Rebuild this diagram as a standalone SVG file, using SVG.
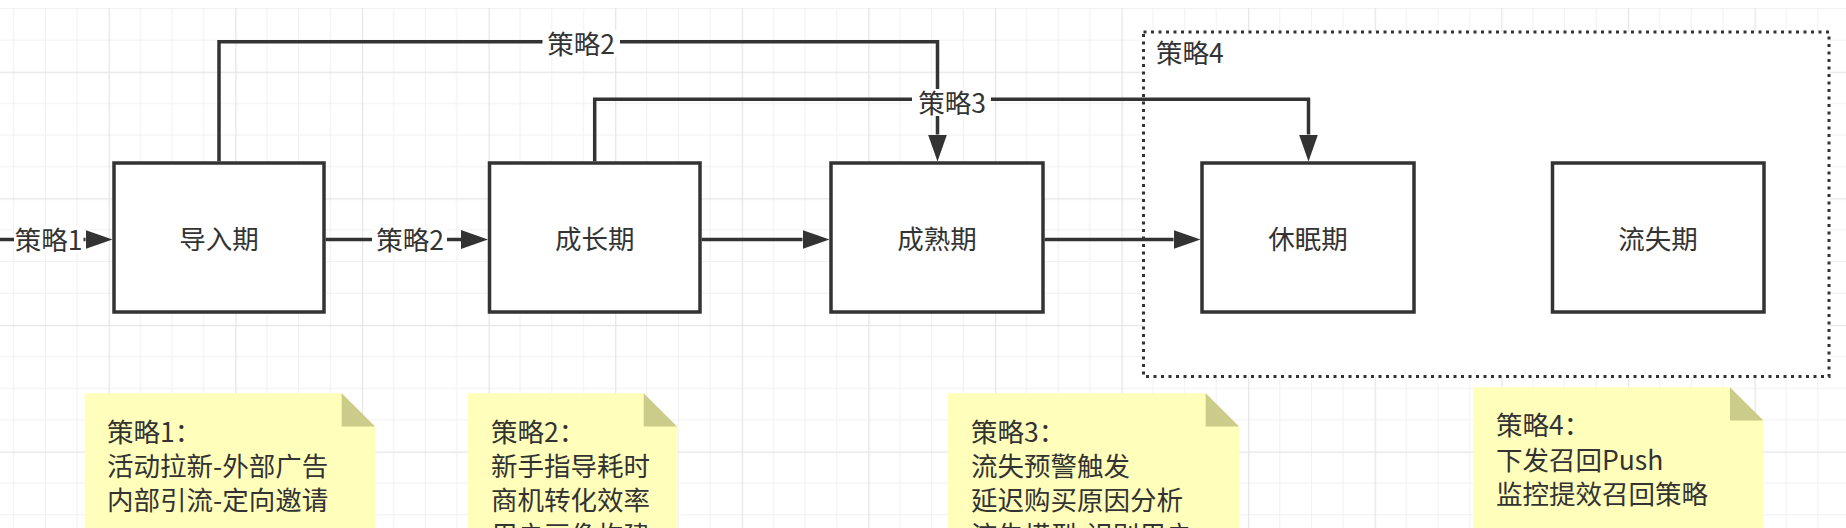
<svg xmlns="http://www.w3.org/2000/svg" width="1846" height="528" viewBox="0 0 1846 528">
<style>
text{font-family:"Noto Sans CJK SC","Noto Sans",sans-serif;font-size:26.5px;fill:#333333}
.box{fill:#ffffff;stroke:#333333;stroke-width:3.5}
.edge{fill:none;stroke:#333333;stroke-width:3.5}
.lbl{fill:#ffffff}
.note{fill:#ffffbb}
.fold{fill:#cccc8a}
.mid{text-anchor:middle}
</style>
<defs>
<pattern id="grid" patternUnits="userSpaceOnUse" x="108.7" y="71.7" width="126.6" height="126.6">
<rect x="0" y="0" width="126.6" height="126.6" fill="#ffffff"/>
<g fill="#f1f1f1">
<rect x="31.15" y="0" width="1" height="126.6"/>
<rect x="62.8" y="0" width="1" height="126.6"/>
<rect x="94.45" y="0" width="1" height="126.6"/>
<rect x="0" y="31.15" width="126.6" height="1"/>
<rect x="0" y="62.8" width="126.6" height="1"/>
<rect x="0" y="94.45" width="126.6" height="1"/>
</g>
<g fill="#e5e5e5">
<rect x="0" y="0" width="1.2" height="126.6"/>
<rect x="0" y="0" width="126.6" height="1.2"/>
</g>
</pattern>
<marker id="arr" markerUnits="userSpaceOnUse" viewBox="0 0 27 19" markerWidth="27" markerHeight="19" refX="0" refY="9.5" orient="auto">
<path d="M0,0 L27,9.5 L0,19 z" fill="#333333"/>
</marker>
</defs>
<rect x="0" y="0" width="1846" height="528" fill="#ffffff"/>
<rect x="0" y="8" width="1846" height="520" fill="url(#grid)"/>

<g id="group-strategy4">
<rect x="1143.5" y="32" width="685.5" height="344.5" fill="#ffffff" stroke="#333333" stroke-width="3" stroke-dasharray="3 4.5"/>
<text x="1156" y="62.5">策略4</text>
</g>

<g id="node-daoru">
<rect class="box" x="114" y="163" width="210" height="149"/>
<text class="mid" x="219" y="249">导入期</text>
</g>
<g id="node-chengzhang">
<rect class="box" x="489.5" y="163" width="210.5" height="149"/>
<text class="mid" x="594.7" y="249">成长期</text>
</g>
<g id="node-chengshu">
<rect class="box" x="831" y="163" width="212" height="149"/>
<text class="mid" x="937" y="249">成熟期</text>
</g>
<g id="node-xiumian">
<rect class="box" x="1202" y="163" width="212" height="149"/>
<text class="mid" x="1308" y="249">休眠期</text>
</g>
<g id="node-liushi">
<rect class="box" x="1552.5" y="163" width="211.5" height="149"/>
<text class="mid" x="1658" y="249">流失期</text>
</g>

<g id="connectors">
<path class="edge" d="M0,239.5 H85.5" marker-end="url(#arr)"/>
<path class="edge" d="M325.75,239.5 H461" marker-end="url(#arr)"/>
<path class="edge" d="M701.75,239.5 H802.5" marker-end="url(#arr)"/>
<path class="edge" d="M1044.75,239.5 H1173.5" marker-end="url(#arr)"/>
<path class="edge" d="M219,161.25 V41.7 H937.5 V134.5" marker-end="url(#arr)"/>
<path class="edge" d="M594.7,161.25 V99.3 H1308.5 V134.5" marker-end="url(#arr)"/>
<rect class="lbl" x="14" y="226" width="69.5" height="27"/>
<text class="mid" x="48.5" y="250">策略1</text>
<rect class="lbl" x="372" y="226" width="75" height="27"/>
<text class="mid" x="410" y="249.5">策略2</text>
<rect class="lbl" x="542.5" y="30" width="77.5" height="27"/>
<text class="mid" x="581" y="54">策略2</text>
<rect class="lbl" x="912" y="89" width="79" height="27"/>
<text class="mid" x="952" y="113">策略3</text>
</g>

<g id="note-1">
<path class="note" d="M84.8,393.3 H341.7 L375,426.6 V540 H84.8 z"/>
<path class="fold" d="M341.7,393.3 L375,426.6 H341.7 z"/>
<text x="107" y="441.5">策略1：</text>
<text x="107" y="476">活动拉新-外部广告</text>
<text x="107" y="510">内部引流-定向邀请</text>
</g>
<g id="note-2">
<path class="note" d="M468,393.3 H643.7 L677,426.6 V540 H468 z"/>
<path class="fold" d="M643.7,393.3 L677,426.6 H643.7 z"/>
<text x="491" y="441.5">策略2：</text>
<text x="491" y="476">新手指导耗时</text>
<text x="491" y="510">商机转化效率</text>
<text x="491" y="544.5">用户画像构建</text>
</g>
<g id="note-3">
<path class="note" d="M948,393.3 H1205.7 L1239,426.6 V540 H948 z"/>
<path class="fold" d="M1205.7,393.3 L1239,426.6 H1205.7 z"/>
<text x="971" y="441.5">策略3：</text>
<text x="971" y="476">流失预警触发</text>
<text x="971" y="510">延迟购买原因分析</text>
<text x="971" y="544.5">流失模型-识别用户</text>
</g>
<g id="note-4">
<path class="note" d="M1473,387.3 H1730 L1763.3,420.6 V540 H1473 z"/>
<path class="fold" d="M1730,387.3 L1763.3,420.6 H1730 z"/>
<text x="1496" y="435">策略4：</text>
<text x="1496" y="470">下发召回Push</text>
<text x="1496" y="503.5">监控提效召回策略</text>
</g>
</svg>
